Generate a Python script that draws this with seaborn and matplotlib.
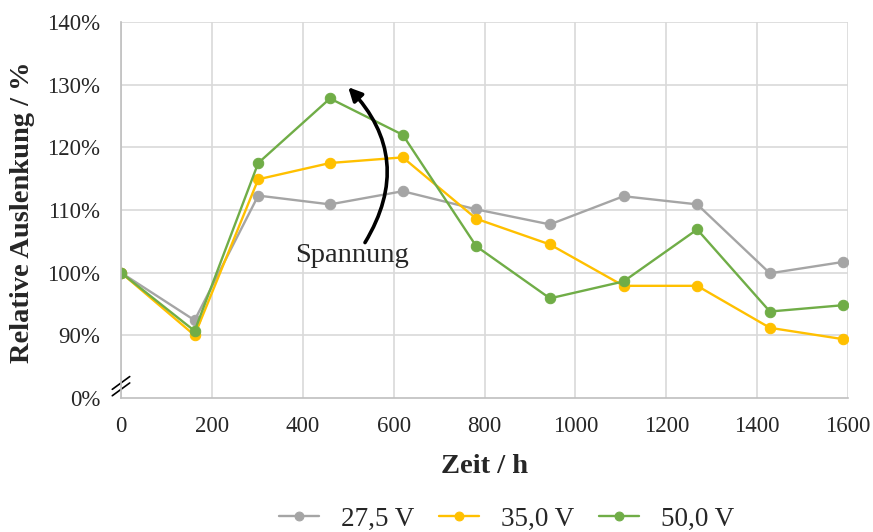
import pandas as pd
import seaborn as sns
import matplotlib.pyplot as plt

zeit_h = [0, 162, 302, 460, 620, 782, 944, 1106, 1268, 1428, 1588]
v_27_5 = [100.0, 92.4, 112.3, 110.9, 113.0, 110.1, 107.7, 112.2, 110.9, 99.9, 101.7]
v_35_0 = [100.0, 90.0, 114.9, 117.5, 118.4, 108.6, 104.5, 97.9, 97.9, 91.2, 89.4]
v_50_0 = [100.0, 90.7, 117.5, 127.8, 122.0, 104.2, 95.9, 98.6, 106.9, 93.8, 94.8]

labels = ["27,5 V", "35,0 V", "50,0 V"]
colors = ["#a5a5a5", "#ffc000", "#70ad47"]

# y ticks: 0 % is drawn one step below 90 % (broken axis)
ytick_pos = [80, 90, 100, 110, 120, 130, 140]
ytick_lab = ["0%", "90%", "100%", "110%", "120%", "130%", "140%"]
xticks = [0, 200, 400, 600, 800, 1000, 1200, 1400, 1600]

df = pd.DataFrame({"Zeit": zeit_h * 3,
                   "Wert": v_27_5 + v_35_0 + v_50_0,
                   "Serie": sum([[l] * len(zeit_h) for l in labels], [])})

sns.set_style("white")
plt.rcParams["font.family"] = ["Liberation Serif", "DejaVu Serif"]

fig = plt.figure(figsize=(8.73, 5.32), dpi=100)
ax = fig.add_axes([0.1386, 0.2519, 0.8328, 0.7067])

for lab, col in zip(labels, colors):
    sns.lineplot(data=df[df["Serie"] == lab], x="Zeit", y="Wert", color=col,
                 marker="o", markersize=7.5, markeredgecolor=col,
                 linewidth=1.7, label=lab, ax=ax)

ax.set_xlim(0, 1600)
ax.set_ylim(80, 140)
ax.set_xticks(xticks)
ax.set_yticks(ytick_pos)
ax.set_yticklabels(ytick_lab)
ax.tick_params(axis="both", length=0, labelsize=16.5)
ax.tick_params(axis="x", pad=13)
ax.tick_params(axis="y", pad=15)
ax.grid(True, color="#d9d9d9", linewidth=1.2)
ax.set_axisbelow(True)
# no horizontal grid line at the 0 % position
ax.yaxis.get_gridlines()[0].set_visible(False)
for s in ["top", "right"]:
    ax.spines[s].set_visible(False)
for s in ["left", "bottom"]:
    ax.spines[s].set_color("#bfbfbf")
    ax.spines[s].set_linewidth(1.2)

ax.set_xlabel("Zeit / h", fontsize=20.5, fontweight="bold", va="center")
ax.xaxis.set_label_coords(0.5, -0.183)
ax.set_ylabel("Relative Auslenkung / %", fontsize=20.5, fontweight="bold", va="center")
ax.yaxis.set_label_coords(-0.135, 0.495)

# axis break marks
for dy in [0.0, 0.017]:
    ax.plot([-0.012, 0.012], [0.006 + dy, 0.040 + dy], color="black",
            linewidth=1.2, transform=ax.transAxes, clip_on=False)

# Spannung arrow
ax.annotate("", xy=(500, 129.6), xytext=(537, 104.8),
            arrowprops=dict(arrowstyle="-|>", color="black", lw=2.6,
                            mutation_scale=20, shrinkA=0, shrinkB=0,
                            connectionstyle="arc3,rad=0.38"))
ax.text(508, 102.7, "Spannung", fontsize=20.5, ha="center", va="center")

handles, labs = ax.get_legend_handles_labels()
ax.legend(handles, labs, loc="center", bbox_to_anchor=(0.53, -0.322),
          ncol=3, frameon=False, fontsize=19.5, handlelength=1.5,
          columnspacing=0.9, handletextpad=0.8, numpoints=1, markerscale=0.85)

fig.savefig("out.png", dpi=100)
